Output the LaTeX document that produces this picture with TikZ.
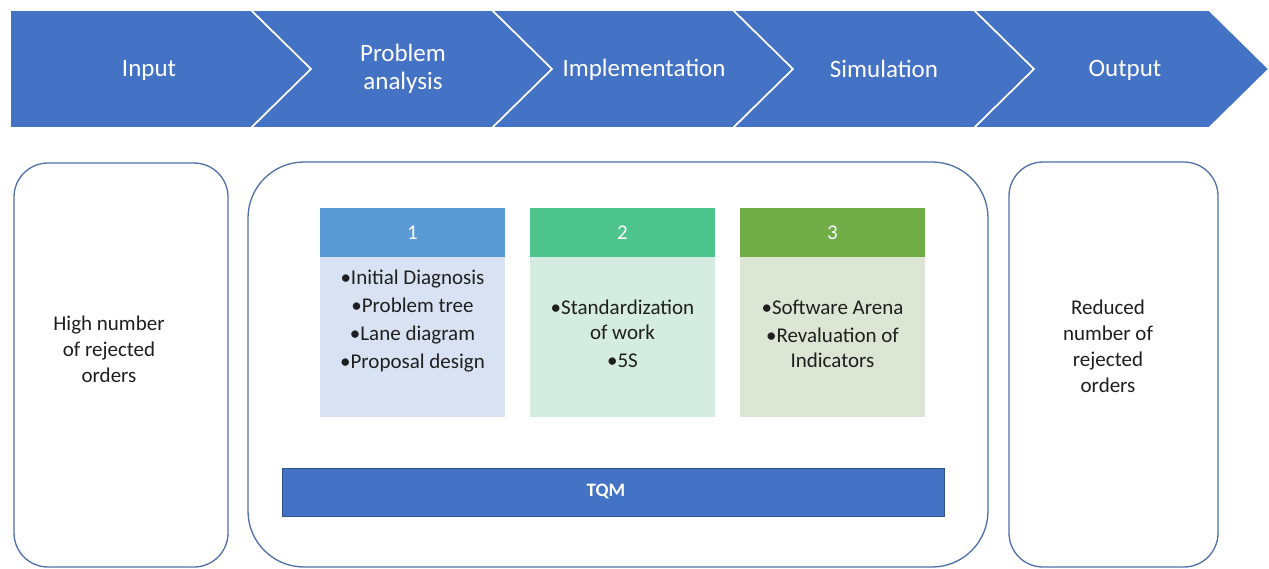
\documentclass[tikz,border=0pt]{standalone}
\usepackage{fontspec}
\setmainfont{Carlito}
\definecolor{chevblue}{HTML}{4472C4}
\definecolor{boxline}{HTML}{4F6FA8}
\definecolor{txt}{HTML}{1F1F1F}
\definecolor{headA}{HTML}{5B9BD5}
\definecolor{bodyA}{HTML}{D9E2F3}
\definecolor{headB}{HTML}{4DC48B}
\definecolor{bodyB}{HTML}{D5ECE2}
\definecolor{headC}{HTML}{70AD47}
\definecolor{bodyC}{HTML}{DDE6D4}
\definecolor{tqmline}{HTML}{2F528F}
\begin{document}
\begin{tikzpicture}[x=1pt,y=-1pt,
  chev/.style={fill=chevblue, draw=white, line width=1.6pt, line join=miter},
  chevtext/.style={text=white, font=\fontsize{25}{28}\selectfont, align=center, inner sep=0pt},
  outerbox/.style={draw=boxline, line width=1.3pt, fill=white, inner sep=0pt},
  plaintext/.style={text=txt, font=\fontsize{21}{26}\selectfont, align=center, inner sep=0pt},
  headbox/.style={minimum width=185pt, minimum height=49pt, inner sep=0pt, text=white, font=\fontsize{21}{24}\selectfont},
  bodybox/.style={minimum width=185pt, minimum height=160pt, inner sep=0pt},
  itemtext/.style={text=txt, font=\fontsize{21}{24.5}\selectfont, align=center, inner sep=0pt}
]
\useasboundingbox (0,0) rectangle (1269,568);

% process chevrons
\path[chev] (10,10) -- (251,10) -- (311,69) -- (251,128) -- (10,128) -- cycle;
\path[chev] (251,10) -- (492,10) -- (552,69) -- (492,128) -- (251,128) -- (311,69) -- cycle;
\path[chev] (492,10) -- (733,10) -- (793,69) -- (733,128) -- (492,128) -- (552,69) -- cycle;
\path[chev] (733,10) -- (974,10) -- (1034,69) -- (974,128) -- (733,128) -- (793,69) -- cycle;
\path[chev] (974,10) -- (1209,10) -- (1269,69) -- (1209,128) -- (974,128) -- (1034,69) -- cycle;

\node[chevtext] (input) at (149,70) {Input};
\node[chevtext] (analysis) at (403,69) {Problem\\analysis};
\node[chevtext] (impl) at (644,70) {Implementation};
\node[chevtext] (sim) at (884,69) {Simulation};
\node[chevtext] (output) at (1125,70) {Output};

% lower containers
\node[outerbox, rounded corners=34pt, minimum width=214pt, minimum height=404pt] (inbox) at (121,365) {};
\node[outerbox, rounded corners=56pt, minimum width=740pt, minimum height=405pt] (midbox) at (618,364.5) {};
\node[outerbox, rounded corners=34pt, minimum width=209pt, minimum height=405pt] (outbox) at (1113.5,364.5) {};

\node[plaintext] (intext) at (109,349) {High number\\of rejected\\orders};
\node[plaintext] (outtext) at (1108,346.5) {Reduced\\number of\\rejected\\orders};

% step 1
\node[bodybox, fill=bodyA] (bodyA) at (412.5,337) {};
\node[headbox, fill=headA] (headA) at (412.5,232.5) {1};
\node[itemtext] (itemsA) at (412.5,321) {•Initial Diagnosis\\[3.5pt]•Problem tree\\[3.5pt]•Lane diagram\\[3.5pt]•Proposal design};

% step 2
\node[bodybox, fill=bodyB] (bodyB) at (622.5,337) {};
\node[headbox, fill=headB] (headB) at (622.5,232.5) {2};
\node[itemtext] (itemsB) at (622.5,334) {•Standardization\\of work\\[3.5pt]•5S};

% step 3
\node[bodybox, fill=bodyC] (bodyC) at (832.5,337) {};
\node[headbox, fill=headC] (headC) at (832.5,232.5) {3};
\node[itemtext] (itemsC) at (832.5,334) {•Software Arena\\[3.5pt]•Revaluation of\\Indicators};

% TQM bar
\node[fill=chevblue, draw=tqmline, line width=1pt, minimum width=662pt, minimum height=48pt, inner sep=0pt,
      text=white, font=\bfseries\fontsize{19}{22}\selectfont] (tqm) at (613,492) {};
\node[text=white, font=\bfseries\fontsize{19}{22}\selectfont, inner sep=0pt] (tqmlabel) at (606,491) {TQM};
\end{tikzpicture}
\end{document}
